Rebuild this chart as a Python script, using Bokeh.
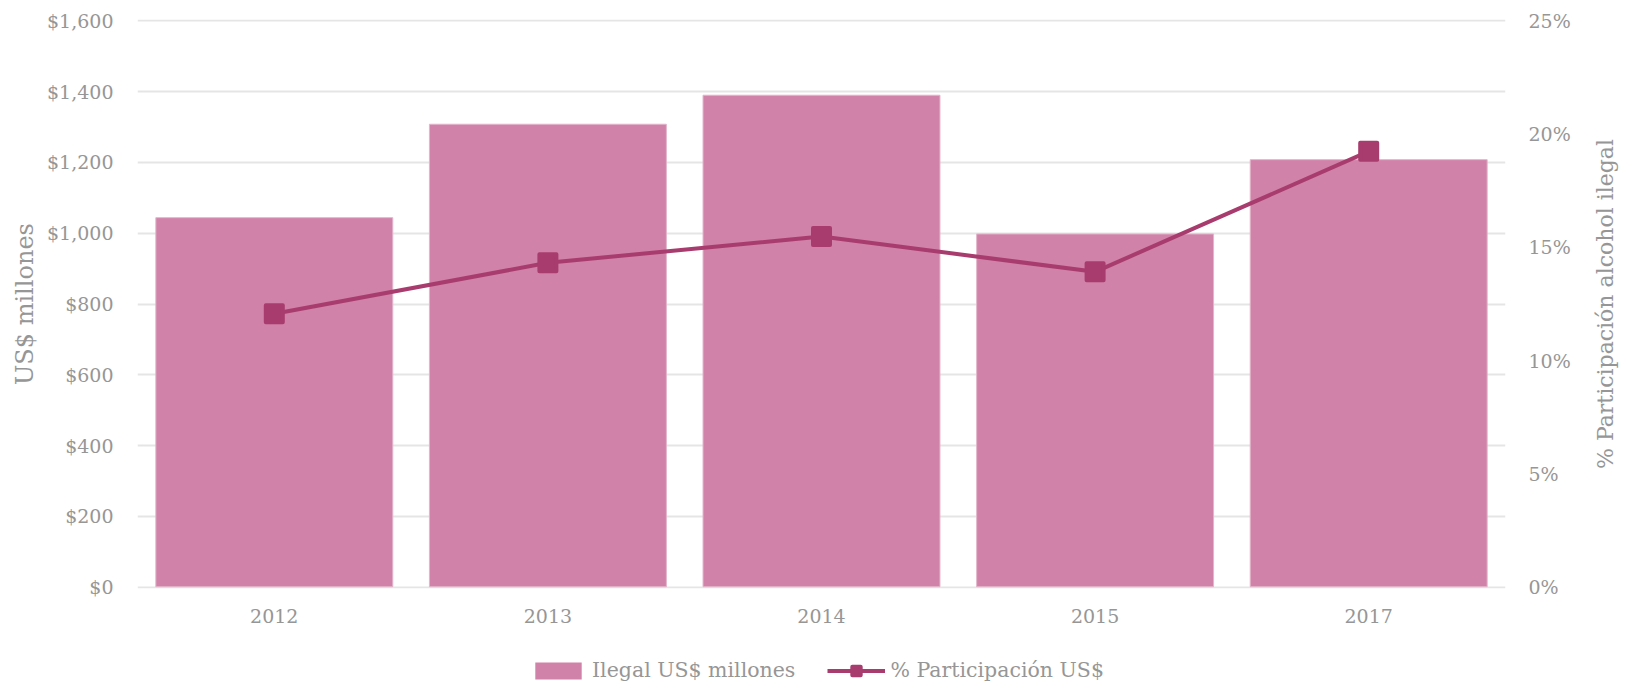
import math
from bokeh.plotting import figure
from bokeh.layouts import column, row
from bokeh.models import (FactorRange, Range1d, LinearAxis, FixedTicker, Label,
                          NumeralTickFormatter, Legend, LegendItem, ColumnDataSource)
from bokeh.embed import file_html
from bokeh.resources import INLINE

years = ["2012", "2013", "2014", "2015", "2017"]
ilegal_usd = [1044, 1308, 1390, 998, 1208]
participacion = [0.1207, 0.1432, 0.1548, 0.1392, 0.1924]
left_ticks = [0, 200, 400, 600, 800, 1000, 1200, 1400, 1600]
right_ticks = [0, 0.05, 0.10, 0.15, 0.20, 0.25]
bar_label = "Ilegal US$ millones"
line_label = "% Participación US$"
left_title = "US$ millones"
right_title = "% Participación alcohol ilegal"

BAR = "#D082A8"
LINE = "#A83C6E"
TXT = "#969696"
GRID = "#E5E5E5"
FONT = "DejaVu Serif"

pad = 4
y_lo, y_hi = -pad, 1600 + pad
pct_scale = 0.25 / 1600

src = ColumnDataSource(dict(year=years, usd=ilegal_usd, pct=participacion))
xr = FactorRange(factors=years, range_padding=0)

MAIN_W, MAIN_H, SIDE_W, LEG_H = 1580, 640, 49, 45

p = figure(width=MAIN_W, height=MAIN_H, x_range=xr,
           y_range=Range1d(y_lo, y_hi), output_backend="svg", toolbar_location=None,
           min_border_left=137, min_border_right=75, min_border_top=19, min_border_bottom=52)
p.extra_y_ranges = {"pct": Range1d(y_lo * pct_scale, y_hi * pct_scale)}
p.outline_line_color = None

line_style = dict(line_color=LINE, line_width=4)
mark_style = dict(marker="square", fill_color=LINE, line_color=LINE, line_width=4, line_join="round")

p.vbar(x="year", top="usd", bottom=1, width=0.866, source=src,
       fill_color=BAR, line_color="#E3B5CB", line_width=1)
p.line(x="year", y="pct", source=src, y_range_name="pct", **line_style)
p.scatter(x="year", y="pct", source=src, y_range_name="pct", size=17, **mark_style)

p.xgrid.visible = False
p.ygrid.grid_line_color = GRID
p.ygrid.grid_line_width = 2
p.ygrid.ticker = FixedTicker(ticks=left_ticks)

yl = p.yaxis[0]
yl.ticker = FixedTicker(ticks=left_ticks)
yl.formatter = NumeralTickFormatter(format="$0,0")
yl.axis_label = left_title
yl.axis_label_standoff = 5

ax_r = LinearAxis(y_range_name="pct", ticker=FixedTicker(ticks=right_ticks),
                  formatter=NumeralTickFormatter(format="0%"))
p.add_layout(ax_r, "right")

xa = p.xaxis[0]
for ax in [xa, yl, ax_r]:
    ax.axis_line_color = None
    ax.major_tick_line_color = None
    ax.minor_tick_line_color = None
    ax.major_tick_out = 0
    ax.major_tick_in = 0
    ax.minor_tick_out = 0
    ax.major_label_text_font = FONT
    ax.major_label_text_font_size = "19px"
    ax.major_label_text_color = TXT
    ax.axis_label_text_font = FONT
    ax.axis_label_text_font_style = "normal"
    ax.axis_label_text_color = TXT

yl.major_label_standoff = 24
ax_r.major_label_standoff = 23
xa.major_label_standoff = 20
yl.axis_label_text_font_size = "24px"

# right-hand axis title (reads bottom to top), in a narrow strip beside the chart
rf = figure(width=SIDE_W, height=MAIN_H, x_range=Range1d(0, SIDE_W), y_range=Range1d(0, MAIN_H),
            output_backend="svg", toolbar_location=None, x_axis_location=None,
            y_axis_location=None, min_border=0)
rf.outline_line_color = None
rf.grid.visible = False
rf.add_layout(Label(x=25, y=MAIN_H - 320, text=right_title, angle=math.pi / 2,
                    text_align="center", text_baseline="middle", text_font=FONT,
                    text_font_size="22px", text_color=TXT))

# legend strip below the chart; its proxy glyphs use the same data but lie outside its view
lf = figure(width=MAIN_W + SIDE_W, height=LEG_H, x_range=xr, y_range=Range1d(5000, 5001),
            output_backend="svg", toolbar_location=None, x_axis_location=None,
            y_axis_location=None, min_border=0, min_border_left=137, min_border_right=124)
lf.outline_line_color = None
lf.grid.visible = False
lb = lf.vbar(x="year", top="usd", bottom=1, width=0.866, source=src,
             fill_color=BAR, line_color=None)
ll = lf.line(x="year", y="pct", source=src, **line_style)
lm = lf.scatter(x="year", y="pct", source=src, size=10, **mark_style)

legend = Legend(items=[LegendItem(label=bar_label, renderers=[lb]),
                       LegendItem(label=line_label, renderers=[ll, lm])],
                orientation="horizontal", location=(392, 3),
                glyph_width=58, glyph_height=21, label_standoff=5, spacing=32,
                padding=0, margin=0, border_line_color=None, background_fill_alpha=0,
                label_text_font=FONT, label_text_font_size="20.5px",
                label_text_color=TXT)
lf.add_layout(legend, "center")

layout = column(row(p, rf, spacing=0), lf, spacing=0)
open("out.html", "w").write(file_html(layout, INLINE))
